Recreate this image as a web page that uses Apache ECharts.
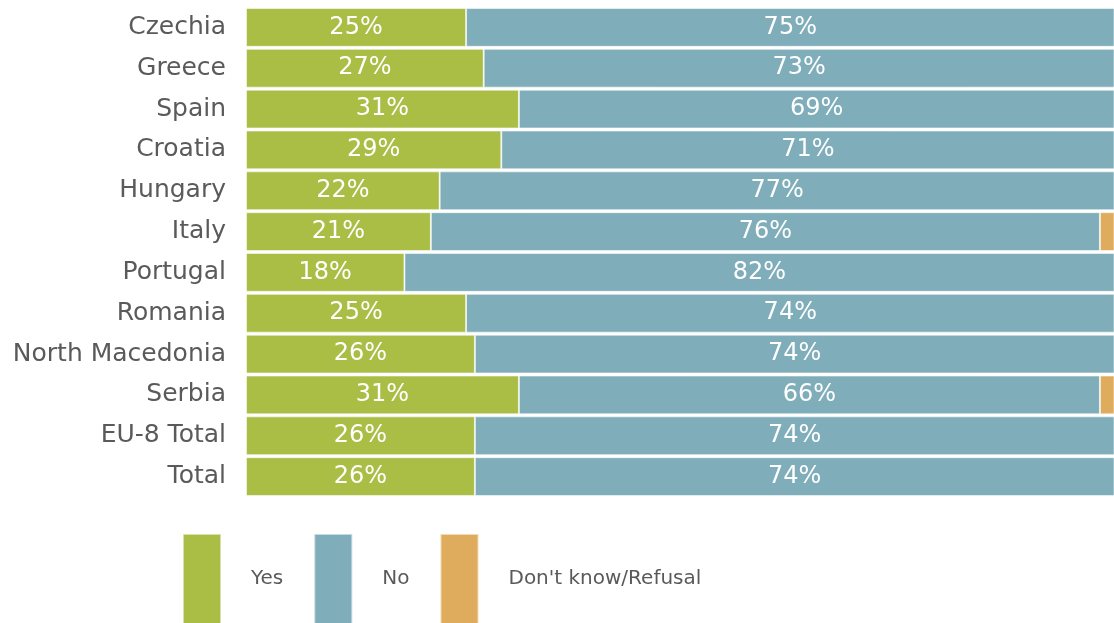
<!DOCTYPE html>
<html>
<head>
<meta charset="utf-8">
<script src="https://cdn.jsdelivr.net/npm/echarts@6/dist/echarts.min.js"></script>
<style>
  html, body { margin: 0; padding: 0; background: #fff; }
  #chart { width: 1114px; height: 623px; }
</style>
</head>
<body>
<div id="chart"></div>
<script>
// Countries, top to bottom
const countries = ['Czechia', 'Greece', 'Spain', 'Croatia', 'Hungary', 'Italy', 'Portugal',
  'Romania', 'North Macedonia', 'Serbia', 'EU-8 Total', 'Total'];

// Shares of answers, in percent
const yesValues = [25, 27, 31, 29, 22, 21, 18, 25, 26, 31, 26, 26];
const noValues = [75, 73, 69, 71, 77, 76, 82, 74, 74, 66, 74, 74];
const dontKnowValues = [0, 0, 0, 0, 1, 3, 0, 1, 0, 3, 0, 0];

const seriesNames = ['Yes', 'No', "Don't know/Refusal"];
const seriesColors = ['#aabd45', '#7fadba', '#dfab5c'];

const FONT = 'DejaVu Sans';

const chart = echarts.init(document.getElementById('chart'), null, { renderer: 'canvas' });

function barSeries(name, values, color, showLabel) {
  return {
    name: name,
    type: 'bar',
    stack: 'answers',
    data: values,
    barCategoryGap: '5%',
    clip: true,
    itemStyle: {
      color: color,
      borderColor: 'rgba(255,255,255,0.55)',
      borderWidth: 1
    },
    label: {
      show: showLabel,
      position: 'inside',
      color: '#ffffff',
      fontFamily: FONT,
      fontSize: 24,
      formatter: p => p.value + '%'
    },
    emphasis: { disabled: true }
  };
}

chart.setOption({
  animation: false,
  textStyle: { fontFamily: FONT },
  grid: { left: 246, right: 0, top: 7, bottom: 126, containLabel: false },
  xAxis: {
    type: 'value',
    min: 0,
    max: 98.6,
    show: false
  },
  yAxis: {
    type: 'category',
    data: countries,
    inverse: true,
    axisLine: { show: false },
    axisTick: { show: false },
    splitLine: { show: false },
    axisLabel: {
      color: '#5a5a5a',
      fontFamily: FONT,
      fontSize: 25,
      margin: 20
    }
  },
  legend: {
    data: seriesNames,
    left: 182,
    top: 533,
    itemWidth: 38,
    itemHeight: 90,
    itemGap: 30,
    icon: 'rect',
    padding: 0,
    textStyle: {
      color: '#5a5a5a',
      fontFamily: FONT,
      fontSize: 20,
      padding: [0, 0, 0, 25]
    }
  },
  series: [
    barSeries(seriesNames[0], yesValues, seriesColors[0], true),
    barSeries(seriesNames[1], noValues, seriesColors[1], true),
    barSeries(seriesNames[2], dontKnowValues, seriesColors[2], false)
  ]
});
</script>
</body>
</html>
